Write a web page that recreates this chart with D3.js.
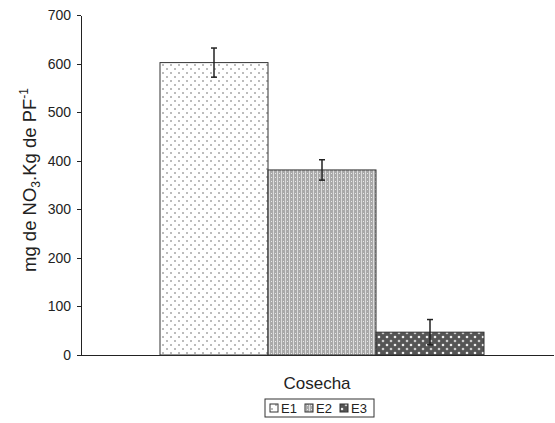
<!DOCTYPE html>
<meta charset="utf-8">
<style>
body { margin: 0; background: #fff; }
svg { font-family: "Liberation Sans", Arial, sans-serif; }
.axis path, .axis line { stroke: #222; shape-rendering: crispEdges; }
.axis text { font-size: 14px; fill: #222; }
.bar { stroke: #333; stroke-width: 1; }
.err { stroke: #222; stroke-width: 1.5; }
</style>
<svg width="555" height="423"></svg>
<script src="https://d3js.org/d3.v7.min.js"></script>
<script>
var series = ["E1", "E2", "E3"],
    values = [602, 381, 47],
    errors = [30, 21, 26],
    category = "Cosecha",
    yTicks = [0, 100, 200, 300, 400, 500, 600, 700];

var svg = d3.select("svg"),
    margin = {top: 15, right: 2, bottom: 68, left: 81},
    width = +svg.attr("width") - margin.left - margin.right,
    height = +svg.attr("height") - margin.top - margin.bottom;

var defs = svg.append("defs");

// E1: white with sparse dots
var p1 = defs.append("pattern").attr("id", "pat1").attr("patternUnits", "userSpaceOnUse")
    .attr("width", 8).attr("height", 8);
p1.append("rect").attr("width", 8).attr("height", 8).attr("fill", "#fff");
p1.append("circle").attr("cx", 2).attr("cy", 2).attr("r", 0.8).attr("fill", "#666");
p1.append("circle").attr("cx", 6).attr("cy", 6).attr("r", 0.8).attr("fill", "#666");

// E2: grey dense texture
var p2 = defs.append("pattern").attr("id", "pat2").attr("patternUnits", "userSpaceOnUse")
    .attr("width", 4).attr("height", 4);
p2.append("rect").attr("width", 4).attr("height", 4).attr("fill", "#a9a9a9");
p2.append("rect").attr("x", 0).attr("y", 0).attr("width", 1).attr("height", 4).attr("fill", "#ddd");
p2.append("rect").attr("x", 2).attr("y", 2).attr("width", 1).attr("height", 1).attr("fill", "#e8e8e8");

// E3: dark with white dots
var p3 = defs.append("pattern").attr("id", "pat3").attr("patternUnits", "userSpaceOnUse")
    .attr("width", 8).attr("height", 8);
p3.append("rect").attr("width", 8).attr("height", 8).attr("fill", "#555");
p3.append("circle").attr("cx", 2).attr("cy", 2).attr("r", 1.3).attr("fill", "#eee");
p3.append("circle").attr("cx", 6).attr("cy", 6).attr("r", 1.3).attr("fill", "#ccc");

var fills = ["url(#pat1)", "url(#pat2)", "url(#pat3)"];

var x0 = d3.scaleBand().domain([category]).range([0, width]),
    x1 = d3.scaleBand().domain(series).range([79, 79 + 324]),
    y = d3.scaleLinear().domain([0, 700]).range([height, 0]);

var g = svg.append("g")
    .attr("transform", "translate(" + margin.left + "," + margin.top + ")");

g.append("g")
    .attr("class", "axis axis--y")
    .call(d3.axisLeft(y).tickValues(yTicks).tickSize(4).tickSizeOuter(0))
  .call(function(s) { s.selectAll("text").attr("x", -10); });

g.append("g")
    .attr("class", "axis axis--x")
    .attr("transform", "translate(0," + height + ")")
    .call(d3.axisBottom(x0).tickSize(0).tickSizeOuter(0))
  .call(function(s) { s.selectAll("text").attr("dy", 0).attr("y", 34).style("font-size", "17px"); });

var data = series.map(function(s, i) { return {s: s, v: values[i], e: errors[i], f: fills[i]}; });

g.selectAll(".bar")
  .data(data)
  .enter().append("rect")
    .attr("class", "bar")
    .attr("x", function(d) { return x1(d.s); })
    .attr("width", x1.bandwidth())
    .attr("y", function(d) { return y(d.v); })
    .attr("height", function(d) { return height - y(d.v); })
    .attr("fill", function(d) { return d.f; });

var err = g.selectAll(".errg")
  .data(data)
  .enter().append("g").attr("class", "errg");
err.append("line").attr("class", "err")
    .attr("x1", function(d) { return x1(d.s) + x1.bandwidth() / 2; })
    .attr("x2", function(d) { return x1(d.s) + x1.bandwidth() / 2; })
    .attr("y1", function(d) { return y(d.v + d.e); })
    .attr("y2", function(d) { return y(d.v - d.e); });
err.append("line").attr("class", "err")
    .attr("x1", function(d) { return x1(d.s) + x1.bandwidth() / 2 - 3; })
    .attr("x2", function(d) { return x1(d.s) + x1.bandwidth() / 2 + 3; })
    .attr("y1", function(d) { return y(d.v + d.e); })
    .attr("y2", function(d) { return y(d.v + d.e); });
err.append("line").attr("class", "err")
    .attr("x1", function(d) { return x1(d.s) + x1.bandwidth() / 2 - 3; })
    .attr("x2", function(d) { return x1(d.s) + x1.bandwidth() / 2 + 3; })
    .attr("y1", function(d) { return y(d.v - d.e); })
    .attr("y2", function(d) { return y(d.v - d.e); });

// y label
var yl = svg.append("text")
    .attr("transform", "translate(36,180) rotate(-90)")
    .attr("text-anchor", "middle")
    .style("font-size", "18.5px")
    .attr("fill", "#222");
yl.append("tspan").text("mg de NO");
yl.append("tspan").attr("dy", 4).style("font-size", "12px").text("3");
yl.append("tspan").attr("dy", -4).text(".Kg de PF");
yl.append("tspan").attr("dy", -8).style("font-size", "12px").text("-1");

// legend
var lg = svg.append("g").attr("transform", "translate(265,399)");
lg.append("rect").attr("width", 109).attr("height", 18)
    .attr("fill", "#fff").attr("stroke", "#333");
var items = lg.selectAll(".li").data(data).enter().append("g")
    .attr("transform", function(d, i) { return "translate(" + (5 + i * 35) + ",0)"; });
items.append("rect").attr("y", 5).attr("width", 8).attr("height", 8)
    .attr("fill", function(d) { return d.f; }).attr("stroke", "#333");
items.append("text").attr("x", 11).attr("y", 14)
    .style("font-size", "13px").attr("fill", "#222")
    .text(function(d) { return d.s; });
</script>
